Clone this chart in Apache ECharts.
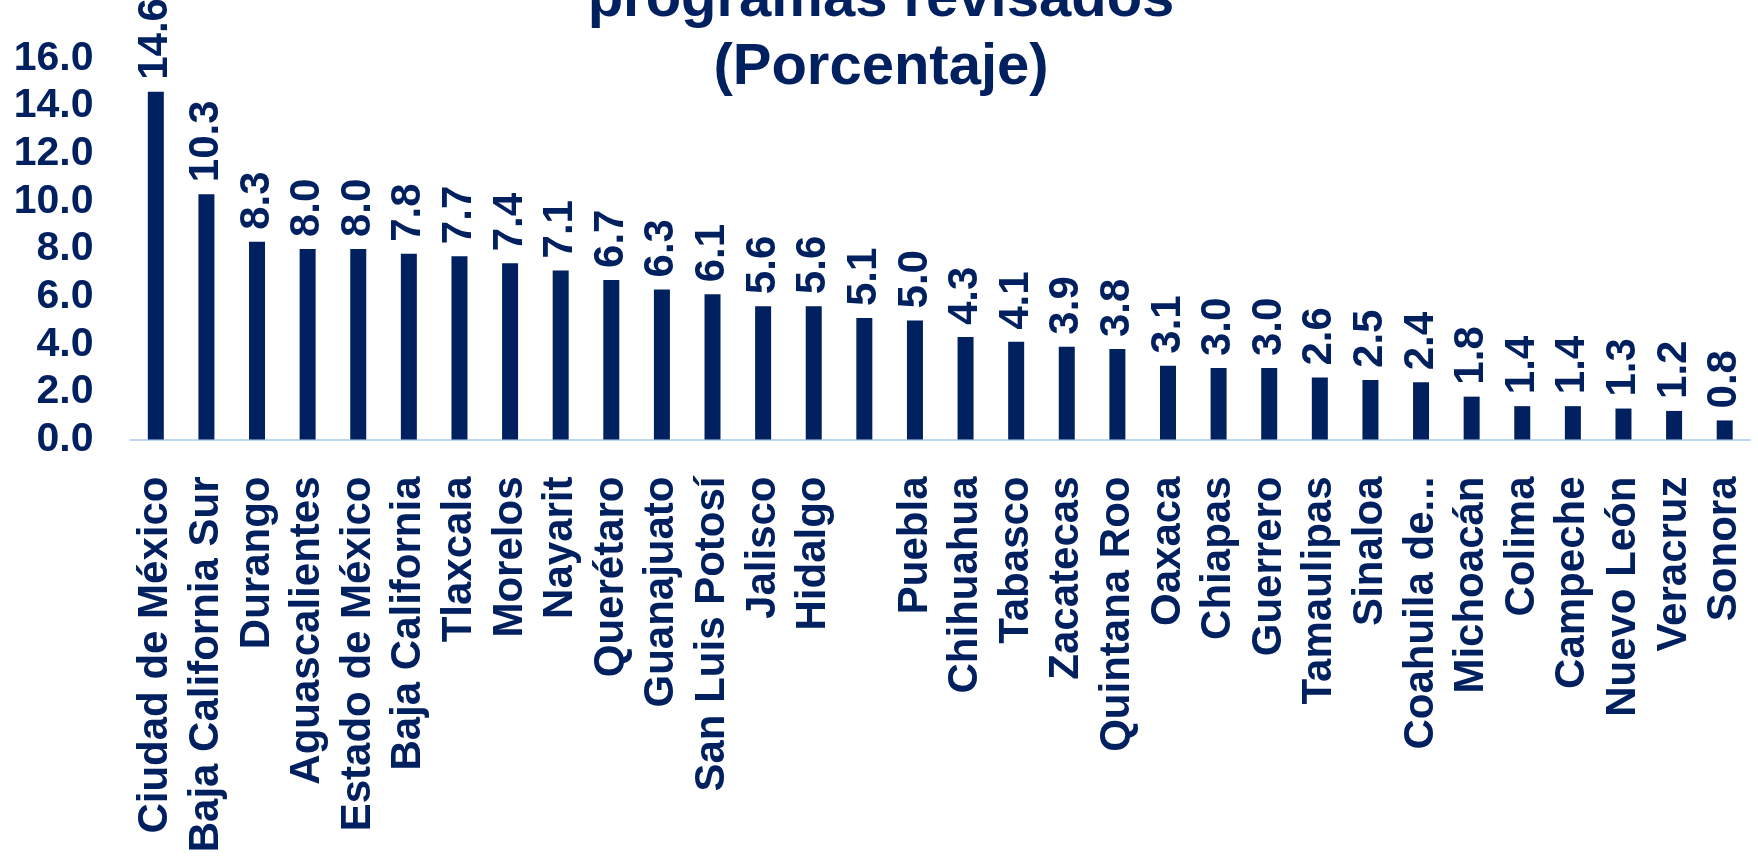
<!DOCTYPE html>
<html>
<head>
<meta charset="utf-8">
<script src="https://cdn.jsdelivr.net/npm/echarts@6/dist/echarts.min.js"></script>
<style>
html,body{margin:0;padding:0;background:#fff;}
#c{width:1758px;height:859px;}
</style>
</head>
<body>
<div id="c"></div>
<script>
var categories = ["Ciudad de México","Baja California Sur","Durango","Aguascalientes","Estado de México","Baja California","Tlaxcala","Morelos","Nayarit","Querétaro","Guanajuato","San Luis Potosí","Jalisco","Hidalgo","","Puebla","Chihuahua","Tabasco","Zacatecas","Quintana Roo","Oaxaca","Chiapas","Guerrero","Tamaulipas","Sinaloa","Coahuila de...","Michoacán","Colima","Campeche","Nuevo León","Veracruz","Sonora"];
var values = [14.6,10.3,8.3,8.0,8.0,7.8,7.7,7.4,7.1,6.7,6.3,6.1,5.6,5.6,5.1,5.0,4.3,4.1,3.9,3.8,3.1,3.0,3.0,2.6,2.5,2.4,1.8,1.4,1.4,1.3,1.2,0.8];
var titleLines = ["programas revisados","(Porcentaje)"];
var yMin = 0, yMax = 16, yStep = 2;

var navy = '#002060';
var font = "'Liberation Sans', Arial, sans-serif";

var chart = echarts.init(document.getElementById('c'), null, {renderer:'canvas'});
chart.setOption({
  animation:false,
  backgroundColor:'#ffffff',
  title:{
    text: titleLines.join('\n'),
    left: 876, top: -39, textAlign:'center',
    textStyle:{color:navy, fontFamily:font, fontWeight:'bold', fontSize:58, lineHeight:68}
  },
  grid:{left:130.5, right:8, top:58.5, bottom:419.5, containLabel:false},
  xAxis:{
    type:'category', data:categories,
    axisLine:{show:true, lineStyle:{color:'#BDD7EE', width:2}},
    axisTick:{show:false},
    axisLabel:{interval:0, rotate:90, margin:37, color:navy, fontFamily:font, fontWeight:'bold', fontSize:42}
  },
  yAxis:{
    type:'value', min:yMin, max:yMax, interval:yStep,
    splitLine:{show:false}, axisLine:{show:false}, axisTick:{show:false},
    axisLabel:{margin:37, color:navy, fontFamily:font, fontWeight:'bold', fontSize:41,
      formatter:function(v){return v.toFixed(1);}}
  },
  series:[{
    type:'bar', data:values, barWidth:16,
    itemStyle:{color:navy},
    label:{show:true, position:'top', rotate:90, align:'left', verticalAlign:'middle', distance:12,
      color:navy, fontFamily:font, fontWeight:'bold', fontSize:42,
      formatter:function(p){return p.value.toFixed(1);}}
  }]
});
</script>
</body>
</html>
